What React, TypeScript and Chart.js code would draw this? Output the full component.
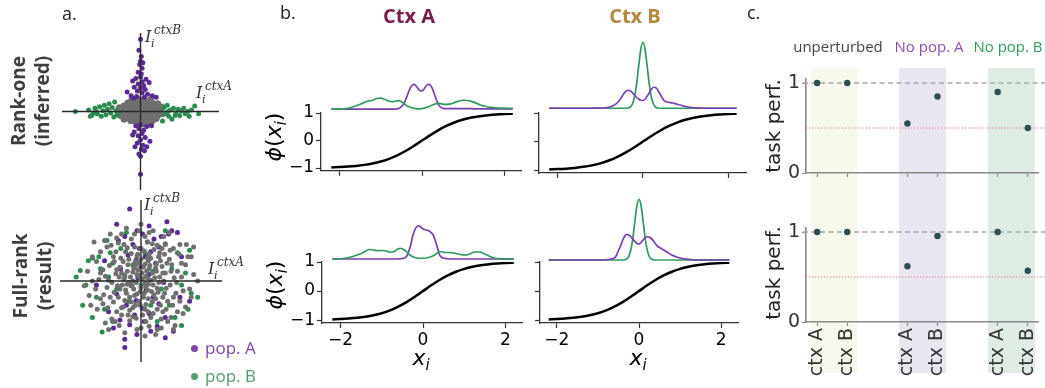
import React, { useEffect, useRef } from "react";
import { Chart, registerables } from "chart.js";
Chart.register(...registerables);

// ---------------- DATA ----------------
type P = [number, number];

// panel a, rank-one (inferred) input weights
const rankOnePopA: P[] = [
  [0.0, 0.92], [-0.02, 0.78], [0.01, 0.7], [0.0, 0.64], [0.03, 0.62], [-0.01, 0.6], [0.02, 0.55], [-0.03, 0.5],
  [0.01, 0.48], [0.0, 0.44], [-0.06, 0.42], [0.07, 0.41], [-0.1, 0.39], [0.02, 0.38], [0.11, 0.37], [-0.03, 0.35],
  [0.04, 0.33], [-0.08, 0.31], [0.0, 0.3], [0.06, 0.28], [-0.04, 0.26], [-0.17, 0.25], [0.02, 0.24], [0.09, 0.22],
  [-0.12, 0.2], [0.15, 0.2], [-0.05, 0.19], [0.05, 0.18], [0.2, 0.18], [-0.09, 0.17],
  [0.0, -0.17], [-0.06, -0.18], [0.08, -0.19], [0.14, -0.18], [-0.02, -0.22], [0.04, -0.24], [-0.08, -0.26],
  [0.02, -0.28], [-0.03, -0.31], [0.06, -0.33], [0.0, -0.36], [0.12, -0.38], [-0.04, -0.4], [0.03, -0.43],
  [-0.07, -0.45], [0.01, -0.48], [0.05, -0.5], [-0.02, -0.54], [0.0, -0.57], [0.08, -0.45], [-0.1, -0.3], [0.0, -0.8],
];
const rankOnePopB: P[] = [
  [-0.83, 0.0], [-0.66, 0.02], [-0.62, -0.05], [-0.58, 0.04], [-0.55, -0.03], [-0.52, 0.06], [-0.5, -0.06],
  [-0.48, 0.01], [-0.46, 0.08], [-0.44, -0.04], [-0.42, 0.03], [-0.4, 0.1], [-0.38, -0.02], [-0.36, 0.05],
  [-0.34, -0.07], [-0.33, 0.12], [-0.31, 0.01], [-0.3, -0.04], [-0.6, -0.02], [-0.64, -0.06], [-0.56, 0.0],
  [0.28, -0.12], [0.3, 0.05], [0.32, -0.03], [0.34, 0.08], [0.36, -0.06], [0.38, 0.02], [0.4, -0.1], [0.42, 0.04],
  [0.45, -0.02], [0.48, 0.03], [0.5, -0.05], [0.52, 0.01], [0.55, 0.04], [0.57, -0.03], [0.6, 0.0], [0.62, -0.06],
  [0.65, 0.02], [0.69, 0.07], [0.74, -0.03], [0.35, 0.0], [0.44, -0.05],
];
const rankOneOther: P[] = [
  [-0.08, 0.14], [-0.02, 0.15], [0.04, 0.14], [0.09, 0.13],
  [-0.16, 0.11], [-0.12, 0.12], [-0.06, 0.11], [0.0, 0.12], [0.06, 0.11], [0.12, 0.12], [0.16, 0.1],
  [-0.21, 0.07], [-0.16, 0.08], [-0.1, 0.07], [-0.04, 0.08], [0.02, 0.07], [0.08, 0.08], [0.14, 0.07], [0.19, 0.07], [0.23, 0.06],
  [-0.24, 0.03], [-0.2, 0.04], [-0.14, 0.03], [-0.08, 0.04], [-0.02, 0.03], [0.04, 0.04], [0.1, 0.03], [0.16, 0.04], [0.21, 0.03], [0.25, 0.02],
  [-0.25, -0.01], [-0.21, 0.0], [-0.15, -0.01], [-0.09, 0.0], [-0.03, -0.01], [0.03, 0.0], [0.09, -0.01], [0.15, 0.0], [0.21, -0.01], [0.25, 0.0],
  [-0.23, -0.05], [-0.19, -0.04], [-0.13, -0.05], [-0.07, -0.04], [-0.01, -0.05], [0.05, -0.04], [0.11, -0.05], [0.17, -0.04], [0.22, -0.05],
  [-0.19, -0.09], [-0.14, -0.08], [-0.08, -0.09], [-0.02, -0.08], [0.04, -0.09], [0.1, -0.08], [0.16, -0.09], [0.2, -0.09],
  [-0.12, -0.12], [-0.07, -0.12], [-0.01, -0.13], [0.05, -0.12], [0.11, -0.12], [0.15, -0.12],
  [-0.04, -0.15], [0.03, -0.16], [0.09, -0.15],
  [-0.27, 0.05], [0.28, -0.03], [-0.21, -0.1], [0.22, 0.1], [-0.11, 0.15], [0.13, 0.15], [-0.26, -0.05], [0.27, 0.06],
];

// panel a, full-rank (result) input weights
const fullRankOther: P[] = [
  [0.02, 0.03], [-0.05, 0.08], [0.09, -0.04], [-0.11, -0.06], [0.14, 0.1], [-0.17, 0.12], [0.04, -0.15], [-0.08, -0.18],
  [0.2, -0.09], [-0.21, 0.02], [0.11, 0.19], [-0.02, 0.22], [0.23, 0.05], [-0.14, -0.2], [0.07, 0.12], [-0.09, 0.16],
  [0.16, -0.17], [-0.19, -0.11], [0.0, -0.08], [0.12, 0.01], [-0.06, -0.02], [0.06, 0.06], [-0.13, 0.05], [0.03, 0.17],
  [0.18, 0.16], [-0.23, -0.05], [0.09, -0.22], [-0.03, -0.25], [0.22, -0.02], [-0.16, 0.2], [0.01, 0.1], [-0.1, 0.0],
  [0.15, -0.05], [-0.04, 0.14], [0.08, -0.11], [-0.18, -0.15], [0.19, 0.21], [-0.24, 0.1], [0.05, -0.03], [-0.07, 0.24],
  [0.3, 0.1], [-0.3, 0.14], [0.27, -0.2], [-0.28, -0.2], [0.1, 0.33], [-0.12, 0.34], [0.05, -0.35], [-0.1, -0.33],
  [0.36, -0.05], [-0.36, -0.02], [0.22, 0.3], [-0.25, 0.28], [0.24, -0.3], [-0.22, -0.32], [0.38, 0.2], [-0.39, 0.19],
  [0.33, -0.25], [-0.34, -0.26], [0.0, 0.4], [0.02, -0.42], [0.41, 0.04], [-0.42, -0.08], [0.16, 0.39], [-0.17, 0.41],
  [0.15, -0.4], [-0.16, -0.42], [0.29, 0.33], [-0.31, 0.36], [0.31, -0.35], [-0.3, -0.38], [0.43, -0.15], [-0.44, 0.06],
  [0.08, 0.28], [-0.05, 0.31], [0.28, 0.0], [-0.27, 0.05], [0.06, -0.29], [-0.07, -0.3], [0.35, 0.27], [-0.34, 0.3],
  [0.39, -0.3], [-0.41, -0.33], [0.2, 0.44], [-0.21, 0.45], [0.12, -0.45], [-0.1, -0.44], [0.45, 0.12], [-0.46, -0.17],
  [0.26, 0.18], [-0.26, -0.1],
  [0.5, 0.05], [-0.5, 0.1], [0.48, -0.25], [-0.47, -0.28], [0.4, 0.4], [-0.42, 0.42], [0.37, -0.45], [-0.36, -0.47],
  [0.05, 0.55], [-0.08, 0.58], [0.1, -0.56], [-0.05, -0.6], [0.55, 0.2], [-0.55, 0.24], [0.52, -0.4], [-0.56, -0.1],
  [0.28, 0.55], [-0.3, 0.53], [0.25, -0.58], [-0.27, -0.55], [0.6, -0.1], [-0.6, 0.0], [0.47, 0.33], [-0.5, 0.36],
  [0.15, 0.62], [-0.18, 0.65], [0.18, -0.66], [-0.2, -0.64], [0.62, 0.3], [-0.62, -0.3], [0.35, 0.6], [-0.38, 0.58],
  [0.42, -0.55], [-0.44, -0.52], [0.55, -0.32], [0.65, 0.08], [-0.66, 0.12], [0.0, 0.7], [0.05, -0.68], [0.56, 0.45],
  [-0.01, -0.13], [0.13, -0.13], [-0.15, -0.02], [0.17, 0.04], [-0.07, 0.19], [0.09, 0.25], [-0.2, 0.07], [0.21, -0.14],
  [-0.12, -0.26], [0.03, -0.2], [-0.26, 0.17], [0.27, 0.1], [0.1, 0.15], [-0.03, 0.06], [0.06, -0.07], [-0.09, -0.1],
  [0.24, 0.25], [-0.22, 0.24], [0.14, -0.26], [-0.29, -0.06], [0.31, -0.09], [-0.04, 0.33], [0.05, 0.21], [-0.15, 0.27],
  [0.18, -0.22], [-0.2, -0.24], [0.12, 0.28], [-0.1, 0.11], [0.08, 0.04], [-0.05, -0.16], [0.19, 0.12], [-0.17, -0.04],
  [0.0, 0.27], [-0.01, -0.3], [0.29, -0.15], [-0.31, 0.09], [0.23, 0.35], [-0.24, -0.33], [0.32, 0.22], [-0.33, -0.14],
  [0.44, -0.02], [-0.47, 0.14], [0.36, 0.38], [-0.37, 0.44], [0.45, -0.38], [-0.5, -0.22], [0.08, 0.48], [-0.12, 0.52],
  [0.06, -0.5], [-0.14, -0.49], [0.5, 0.22], [-0.52, 0.02], [0.3, 0.46], [-0.28, 0.47], [0.33, -0.5], [-0.32, -0.5],
  [0.52, -0.12], [-0.54, -0.35], [0.25, -0.47], [-0.24, 0.58], [0.48, 0.45], [-0.45, 0.5], [0.4, -0.6], [-0.4, -0.6],
  [0.58, 0.3], [-0.6, 0.3], [0.62, -0.2], [-0.64, -0.18], [0.1, 0.6], [-0.02, 0.62], [0.0, -0.58], [0.2, -0.6],
  [0.7, 0.0], [-0.7, -0.06], [0.65, 0.42], [-0.58, 0.48],
  [0.04, 0.37], [-0.08, 0.42], [0.14, 0.46], [-0.19, 0.36], [0.26, 0.4], [-0.33, 0.24], [0.37, 0.12], [-0.4, 0.01],
  [0.4, -0.2], [-0.38, -0.2], [0.27, -0.38], [-0.24, -0.42], [0.09, -0.38], [-0.06, -0.46], [0.2, -0.35], [-0.14, -0.36],
];
const fullRankPopA: P[] = [
  [-0.14, 0.89], [0.32, 0.73], [0.38, 0.62], [0.34, 0.58], [0.45, 0.6], [0.1, 0.68], [-0.05, 0.62], [0.02, 0.58],
  [-0.2, 0.55], [0.16, 0.52], [-0.28, 0.5], [0.08, 0.48], [-0.1, 0.45], [0.22, 0.42], [-0.02, 0.4], [0.12, 0.36],
  [-0.16, 0.32], [0.05, 0.3], [-0.06, 0.26], [0.18, 0.22], [0.0, 0.18], [-0.25, 0.15], [0.1, 0.08], [-0.04, 0.04],
  [0.28, -0.02], [-0.12, -0.06], [0.06, -0.12], [-0.3, -0.16], [0.15, -0.2], [-0.06, -0.24], [0.22, -0.28],
  [-0.18, -0.3], [0.02, -0.34], [-0.4, -0.38], [0.1, -0.4], [-0.08, -0.42], [0.3, -0.45], [-0.26, -0.48],
  [0.04, -0.5], [-0.14, -0.54], [0.2, -0.56], [-0.34, -0.58], [0.48, -0.2], [0.12, -0.62], [-0.05, -0.66],
  [0.3, -0.7], [-0.2, -0.72], [0.5, 0.3], [-0.45, 0.25], [-0.2, -0.82], [0.4, -0.62], [-0.55, -0.05],
  [0.6, -0.25], [-0.3, 0.7], [0.25, 0.55],
];
const fullRankPopB: P[] = [
  [-0.75, 0.13], [-0.65, 0.25], [-0.6, 0.28], [-0.48, -0.63], [-0.52, 0.3], [-0.42, 0.5], [-0.38, 0.35],
  [-0.35, 0.22], [-0.68, -0.05], [-0.55, -0.2], [-0.45, -0.35], [-0.3, -0.1], [-0.25, 0.4], [-0.2, 0.05],
  [-0.15, -0.25], [-0.1, 0.2], [0.0, -0.05], [0.05, 0.35], [0.12, -0.3], [0.15, 0.12], [0.22, 0.3], [0.25, -0.1],
  [0.3, 0.45], [0.35, -0.3], [0.38, 0.15], [0.42, -0.45], [0.45, 0.35], [0.5, -0.05], [0.55, 0.1], [0.58, -0.35],
  [0.62, -0.15], [0.6, 0.38], [-0.6, -0.45], [-0.72, -0.3], [-0.8, 0.05], [-0.35, -0.5], [0.5, -0.55],
  [-0.4, 0.05], [0.2, -0.5], [0.7, -0.2], [-0.5, 0.15], [0.3, 0.62], [-0.18, 0.6],
];

// panel b, densities of x_i per population
const densityX = [
  -2.2, -2.1, -2.0, -1.9, -1.8, -1.7, -1.6, -1.5, -1.4, -1.3, -1.2, -1.1, -1.0, -0.9, -0.8, -0.7, -0.6,
  -0.55, -0.5, -0.45, -0.4, -0.35, -0.3, -0.25, -0.2, -0.15, -0.1, -0.05, 0, 0.05, 0.1, 0.15, 0.2, 0.25, 0.3,
  0.35, 0.4, 0.45, 0.5, 0.55, 0.6, 0.7, 0.8, 0.9, 1.0, 1.1, 1.2, 1.3, 1.4, 1.5, 1.6, 1.7, 1.8, 1.9, 2.0, 2.1, 2.2,
];
const rankOneCtxAPopA = [
  0, 0, 0, 0, 0, 0, 0, 0, 0, 0, 0, 0, 0, 0, 0, 0, 0.01,
  0.04, 0.1, 0.2, 0.38, 0.6, 0.82, 0.98, 1.03, 0.98, 0.86, 0.77, 0.76, 0.84, 0.97, 1.03, 1.0, 0.86, 0.62,
  0.38, 0.19, 0.08, 0.04, 0.02, 0.02, 0.02, 0.02, 0.02, 0.02, 0.02, 0.02, 0.01, 0.01, 0.01, 0.01, 0.01, 0.01, 0.01, 0.01, 0.01, 0.01,
];
const rankOneCtxAPopB = [
  0, 0, 0, 0.01, 0.03, 0.08, 0.14, 0.2, 0.28, 0.34, 0.37, 0.44, 0.46, 0.4, 0.33, 0.31, 0.34,
  0.35, 0.31, 0.25, 0.18, 0.12, 0.09, 0.06, 0.04, 0.02, 0.01, 0.01, 0.02, 0.04, 0.07, 0.1, 0.13, 0.17, 0.2,
  0.23, 0.24, 0.23, 0.21, 0.2, 0.2, 0.22, 0.28, 0.34, 0.37, 0.36, 0.32, 0.26, 0.18, 0.13, 0.09, 0.07, 0.05, 0.04, 0.04, 0.03, 0.03,
];
const rankOneCtxBPopA = [
  0, 0, 0, 0, 0, 0, 0, 0, 0, 0, 0, 0.01, 0.01, 0.02, 0.04, 0.1, 0.22,
  0.32, 0.45, 0.58, 0.68, 0.72, 0.7, 0.63, 0.53, 0.44, 0.37, 0.32, 0.31, 0.36, 0.48, 0.62, 0.76, 0.84, 0.83,
  0.72, 0.58, 0.42, 0.3, 0.26, 0.24, 0.21, 0.16, 0.12, 0.07, 0.04, 0.02, 0.01, 0, 0, 0, 0, 0, 0, 0, 0, 0,
];
const rankOneCtxBPopB = [
  0, 0, 0, 0, 0, 0, 0, 0, 0, 0, 0, 0, 0, 0, 0, 0, 0,
  0, 0, 0, 0, 0.01, 0.04, 0.16, 0.43, 0.95, 1.68, 2.36, 2.64, 2.36, 1.68, 0.95, 0.43, 0.16, 0.04,
  0.01, 0, 0, 0, 0, 0, 0, 0, 0, 0, 0, 0, 0, 0, 0, 0, 0, 0, 0, 0, 0, 0,
];
const fullRankCtxAPopA = [
  0, 0, 0, 0, 0, 0, 0, 0, 0, 0, 0, 0, 0, 0, 0, 0, 0,
  0.01, 0.02, 0.04, 0.1, 0.3, 0.55, 0.92, 1.16, 1.3, 1.33, 1.27, 1.2, 1.17, 1.15, 1.12, 1.05, 0.95, 0.72,
  0.45, 0.17, 0.07, 0.03, 0.02, 0.01, 0, 0, 0, 0, 0, 0, 0, 0, 0, 0, 0, 0, 0, 0, 0, 0,
];
const fullRankCtxAPopB = [
  0, 0, 0.01, 0.03, 0.06, 0.1, 0.16, 0.22, 0.31, 0.38, 0.36, 0.33, 0.34, 0.33, 0.27, 0.3, 0.41,
  0.43, 0.4, 0.36, 0.29, 0.2, 0.14, 0.09, 0.06, 0.04, 0.03, 0.03, 0.03, 0.03, 0.05, 0.07, 0.1, 0.13, 0.18,
  0.24, 0.29, 0.29, 0.27, 0.26, 0.26, 0.25, 0.22, 0.18, 0.16, 0.18, 0.25, 0.29, 0.27, 0.2, 0.12, 0.05, 0.02, 0.01, 0, 0, 0,
];
const fullRankCtxBPopA = [
  0, 0, 0, 0, 0, 0, 0, 0, 0, 0, 0, 0, 0, 0, 0.01, 0.03, 0.08,
  0.18, 0.38, 0.56, 0.78, 0.95, 1.03, 1.0, 0.94, 0.84, 0.74, 0.66, 0.64, 0.7, 0.8, 0.89, 0.93, 0.92, 0.86,
  0.77, 0.65, 0.55, 0.5, 0.45, 0.4, 0.3, 0.2, 0.13, 0.08, 0.05, 0.03, 0.01, 0, 0, 0, 0, 0, 0, 0, 0, 0,
];
const fullRankCtxBPopB = [
  0, 0, 0, 0, 0, 0, 0, 0, 0, 0, 0, 0, 0, 0, 0, 0, 0,
  0, 0, 0, 0, 0.01, 0.04, 0.14, 0.4, 0.87, 1.55, 2.18, 2.43, 2.18, 1.55, 0.87, 0.4, 0.14, 0.04,
  0.01, 0, 0, 0, 0, 0, 0, 0, 0, 0, 0, 0, 0, 0, 0, 0, 0, 0, 0, 0, 0, 0,
];

// panel b, transfer function phi(x)
const phiX = [-2.2, -2.0, -1.8, -1.6, -1.4, -1.2, -1.0, -0.8, -0.6, -0.4, -0.2, 0, 0.2, 0.4, 0.6, 0.8, 1.0, 1.2, 1.4, 1.6, 1.8, 2.0, 2.2];
const phiY = [-0.976, -0.964, -0.947, -0.922, -0.885, -0.834, -0.762, -0.664, -0.537, -0.38, -0.197, 0, 0.197, 0.38, 0.537, 0.664, 0.762, 0.834, 0.885, 0.922, 0.947, 0.964, 0.976];
const phiXTicks = [-2, 0, 2];
const phiYTicks = [-1, 0, 1];

// panel c, task performance
const perfCategories = ["ctx A", "ctx B", "", "ctx A", "ctx B", "", "ctx A", "ctx B"];
const perfRankOne = [1.0, 1.0, null, 0.55, 0.85, null, 0.9, 0.5];
const perfFullRank = [1.0, 1.0, null, 0.62, 0.955, null, 1.0, 0.57];
const perfYTicks = [0, 1];
const perfRefLevel = 1.0;
const perfChanceLevel = 0.5;
const groupLabels = ["unperturbed", "No pop. A", "No pop. B"];

// ---------------- STYLE ----------------
const PURPLE_PT = "#5a2a94";
const GREEN_PT = "#2b8b50";
const GRAY_PT = "#6f6f6f";
const PURPLE_LINE = "#7a3db3";
const GREEN_LINE = "#2f9a5d";
const DOT = "#2b4e52";
const TICK_FONT = "'DejaVu Sans', sans-serif";
const SANS = "'Open Sans', sans-serif";
const bandSpans = [[-0.2, 1.36], [2.72, 4.29], [5.68, 7.24]];
const bandColors = ["#f8f9ed", "#e9e6f2", "#deece4"];

const fmt = (v: number) => (v < 0 ? "\u2212" + Math.abs(v) : String(v));

const base = {
  responsive: false,
  animation: false,
  devicePixelRatio: 1,
  events: [],
  plugins: { legend: { display: false }, tooltip: { enabled: false } },
};

const crossPlugin = {
  id: "cross",
  afterDatasetsDraw(chart: any) {
    const { ctx, chartArea: a, scales } = chart;
    const x0 = scales.x.getPixelForValue(0);
    const y0 = scales.y.getPixelForValue(0);
    ctx.save();
    ctx.strokeStyle = "#2a2a2a";
    ctx.lineWidth = 1.4;
    ctx.beginPath();
    ctx.moveTo(a.left, y0);
    ctx.lineTo(a.right, y0);
    ctx.moveTo(x0, a.top);
    ctx.lineTo(x0, a.bottom);
    ctx.stroke();
    ctx.restore();
  },
};

function scatterConfig(sets: { pts: P[]; color: string; r: number }[], padding: any) {
  return {
    type: "scatter",
    data: {
      datasets: sets.map((s) => ({
        data: s.pts.map(([x, y]) => ({ x, y })),
        backgroundColor: s.color,
        borderWidth: 0,
        pointRadius: s.r,
        clip: false,
      })),
    },
    options: {
      ...base,
      layout: { padding },
      scales: {
        x: { display: false, min: -1, max: 1 },
        y: { display: false, min: -1, max: 1 },
      },
    },
    plugins: [crossPlugin],
  };
}

const noSidePadding = (s: any) => {
  s.paddingLeft = 0;
  s.paddingRight = 0;
};

function phiConfig(o: {
  popA: number[]; popB: number[]; greenOnTop: boolean; showY: boolean; showX: boolean;
  xMin: number; xMax: number; yW: number; xH: number; padding: any; dMin: number; dMax: number;
}) {
  const dens = (vals: number[], color: string) => ({
    data: densityX.map((x, i) => ({ x, y: vals[i] })),
    yAxisID: "y2",
    borderColor: color,
    borderWidth: 1.7,
    pointRadius: 0,
    cubicInterpolationMode: "monotone",
    clip: false,
    fill: false,
  });
  const dA = dens(o.popA, PURPLE_LINE);
  const dB = dens(o.popB, GREEN_LINE);
  const tickFont = { family: TICK_FONT, size: 17 };
  return {
    type: "line",
    data: {
      datasets: [
        {
          data: phiX.map((x, i) => ({ x, y: phiY[i] })),
          yAxisID: "y",
          borderColor: "#000",
          borderWidth: 2.5,
          pointRadius: 0,
          cubicInterpolationMode: "monotone",
          fill: false,
        },
        ...(o.greenOnTop ? [dA, dB] : [dB, dA]),
      ],
    },
    options: {
      ...base,
      layout: { padding: o.padding },
      scales: {
        x: {
          type: "linear",
          min: o.xMin,
          max: o.xMax,
          afterBuildTicks: (s: any) => { s.ticks = phiXTicks.map((v) => ({ value: v })); },
          afterFit: (s: any) => { s.height = o.xH; noSidePadding(s); },
          ticks: { display: o.showX, font: tickFont, color: "#000", padding: 2, maxRotation: 0, callback: (v: any) => fmt(v) },
          grid: { drawOnChartArea: false, drawTicks: true, tickLength: 5, color: "#333", tickWidth: 1.2 },
          border: { display: true, color: "#333", width: 1.3 },
        },
        y: {
          type: "linear",
          min: -1.1,
          max: 1.0,
          afterBuildTicks: (s: any) => { s.ticks = phiYTicks.map((v) => ({ value: v })); },
          afterFit: (s: any) => { s.width = o.yW; },
          ticks: { display: o.showY, font: tickFont, color: "#000", padding: 2, callback: (v: any) => fmt(v) },
          grid: { drawOnChartArea: false, drawTicks: true, tickLength: 5, color: "#333", tickWidth: 1.2 },
          border: { display: true, color: "#333", width: 1.3 },
        },
        y2: { type: "linear", display: false, min: o.dMin, max: o.dMax },
      },
    },
  };
}

function perfConfig(o: { values: (number | null)[]; showX: boolean; xH: number; padding: any; bandTop: number; bandBottom: number | null }) {
  const bandsPlugin = {
    id: "bands",
    beforeDraw(chart: any) {
      const { ctx, scales } = chart;
      ctx.save();
      bandSpans.forEach(([a, b], i) => {
        const x0 = scales.x.getPixelForValue(a);
        const x1 = scales.x.getPixelForValue(b);
        const y1 = o.bandBottom == null ? chart.height : o.bandBottom;
        ctx.fillStyle = bandColors[i];
        ctx.fillRect(x0, o.bandTop, x1 - x0, y1 - o.bandTop);
      });
      ctx.restore();
    },
  };
  const refPlugin = {
    id: "refs",
    beforeDatasetsDraw(chart: any) {
      const { ctx, chartArea: a, scales } = chart;
      ctx.save();
      const yr = scales.y.getPixelForValue(perfRefLevel);
      ctx.strokeStyle = "#a8a8a8";
      ctx.lineWidth = 1.3;
      ctx.setLineDash([5, 3.5]);
      ctx.beginPath();
      ctx.moveTo(a.left - 3, yr);
      ctx.lineTo(chart.width, yr);
      ctx.stroke();
      const yc = scales.y.getPixelForValue(perfChanceLevel);
      ctx.strokeStyle = "#e07a7a";
      ctx.lineWidth = 1;
      ctx.setLineDash([1.3, 1.7]);
      ctx.beginPath();
      ctx.moveTo(a.left, yc);
      ctx.lineTo(chart.width, yc);
      ctx.stroke();
      ctx.restore();
    },
  };
  const tickFont = { family: TICK_FONT, size: 19 };
  return {
    type: "scatter",
    data: {
      datasets: [
        {
          data: o.values
            .map((v, i) => (v == null ? null : { x: i, y: v }))
            .filter((d) => d != null),
          backgroundColor: DOT,
          borderWidth: 0,
          pointRadius: 3.2,
          clip: false,
        },
      ],
    },
    options: {
      ...base,
      layout: { padding: o.padding },
      scales: {
        x: {
          type: "linear",
          min: -0.37,
          max: 7.34,
          afterBuildTicks: (s: any) => {
            s.ticks = perfCategories.map((c, i) => (c ? { value: i } : null)).filter((t) => t != null);
          },
          afterFit: (s: any) => { s.height = o.xH; noSidePadding(s); },
          ticks: {
            display: o.showX, font: tickFont, color: "#333", padding: 2, minRotation: 90, maxRotation: 90, autoSkip: false,
            callback: (v: any) => perfCategories[v],
          },
          grid: { drawOnChartArea: false, drawTicks: true, tickLength: 4, color: "#888", tickWidth: 1.2 },
          border: { display: true, color: "#888", width: 1.6 },
        },
        y: {
          type: "linear",
          min: 0,
          max: 1.05,
          afterBuildTicks: (s: any) => { s.ticks = perfYTicks.map((v) => ({ value: v })); },
          afterFit: (s: any) => { s.width = 56; },
          ticks: { font: tickFont, color: "#333", padding: 2 },
          grid: { drawOnChartArea: false, drawTicks: true, tickLength: 4, color: "#888", tickWidth: 1.2 },
          border: { display: true, color: "#888", width: 1.6 },
        },
      },
    },
    plugins: [bandsPlugin, refPlugin],
  };
}

// ---------------- COMPONENTS ----------------
function ChartBox({ x, y, w, h, make }: { x: number; y: number; w: number; h: number; make: () => any }) {
  const ref = useRef<HTMLCanvasElement>(null);
  useEffect(() => {
    const chart = new Chart(ref.current as HTMLCanvasElement, make());
    return () => chart.destroy();
  }, []);
  return (
    <canvas
      ref={ref}
      width={w}
      height={h}
      style={{ position: "absolute", left: x, top: y, width: w, height: h }}
    />
  );
}

function Txt({ x, y, size, color, children, bold, center, family }: any) {
  return (
    <div
      style={{
        position: "absolute",
        left: x,
        top: y,
        fontFamily: family || SANS,
        fontSize: size,
        lineHeight: size + "px",
        color,
        fontWeight: bold ? 700 : 400,
        whiteSpace: "nowrap",
        transform: center ? "translateX(-50%)" : undefined,
      }}
    >
      {children}
    </div>
  );
}

function Rot({ cx, cy, children, style }: any) {
  return (
    <div
      style={{
        position: "absolute",
        left: cx,
        top: cy,
        transform: "translate(-50%,-50%) rotate(-90deg)",
        whiteSpace: "nowrap",
        textAlign: "center",
        ...style,
      }}
    >
      {children}
    </div>
  );
}

function ILabel({ x, y, sup }: { x: number; y: number; sup: string }) {
  const f = "'DejaVu Serif', serif";
  const s = (left: number, base: number, size: number, text: string) => (
    <span
      style={{
        position: "absolute",
        left,
        top: base - 0.845 * size,
        fontFamily: f,
        fontStyle: "italic",
        fontSize: size,
        lineHeight: size + "px",
        color: "#333",
        whiteSpace: "nowrap",
      }}
    >
      {text}
    </span>
  );
  return (
    <>
      {s(x, y, 16, "I")}
      {s(x + 6, y + 4, 11, "i")}
      {s(x + 9, y - 9, 12, sup)}
    </>
  );
}

function PhiLabel({ cx, cy }: { cx: number; cy: number }) {
  return (
    <Rot cx={cx} cy={cy} style={{ fontFamily: TICK_FONT, fontSize: 22, color: "#000" }}>
      <span style={{ fontStyle: "italic" }}>{"\u03D5"}</span>(
      <span style={{ fontStyle: "italic" }}>x</span>
      <span style={{ fontStyle: "italic", fontSize: 15, position: "relative", top: 5 }}>i</span>)
    </Rot>
  );
}

function XiLabel({ cx, y }: { cx: number; y: number }) {
  return (
    <div style={{ position: "absolute", left: cx, top: y, transform: "translateX(-50%)", fontFamily: TICK_FONT, fontSize: 22, lineHeight: "22px", color: "#000", whiteSpace: "nowrap" }}>
      <span style={{ fontStyle: "italic" }}>x</span>
      <span style={{ fontStyle: "italic", fontSize: 15, position: "relative", top: 5 }}>i</span>
    </div>
  );
}

function LegendItem({ x, y, color, label }: any) {
  return (
    <div style={{ position: "absolute", left: x, top: y, fontFamily: SANS, fontSize: 17, lineHeight: "20px", color, whiteSpace: "nowrap" }}>
      <span style={{ display: "inline-block", width: 7, height: 7, borderRadius: 4, background: color, marginRight: 7, verticalAlign: "middle", position: "relative", top: -1 }} />
      {label}
    </div>
  );
}

export default function App() {
  return (
    <div style={{ position: "fixed", left: 0, top: 0, width: 1045, height: 388, background: "#fff", overflow: "hidden" }}>
      {/* panel a */}
      <ChartBox x={50} y={20} w={215} h={185} make={() => scatterConfig(
        [{ pts: rankOnePopA, color: PURPLE_PT, r: 2.5 }, { pts: rankOnePopB, color: GREEN_PT, r: 2.5 }, { pts: rankOneOther, color: GRAY_PT, r: 3.4 }],
        { left: 12, top: 13, right: 46, bottom: 15 })} />
      <ChartBox x={48} y={185} w={215} h={195} make={() => scatterConfig(
        [{ pts: fullRankOther, color: GRAY_PT, r: 2.5 }, { pts: fullRankPopA, color: PURPLE_PT, r: 2.5 }, { pts: fullRankPopB, color: GREEN_PT, r: 2.5 }],
        { left: 12, top: 15, right: 41, bottom: 18 })} />

      {/* panel b */}
      <ChartBox x={255} y={35} w={275} h={148} make={() => phiConfig({
        popA: rankOneCtxAPopA, popB: rankOneCtxAPopB, greenOnTop: false, showY: true, showX: false,
        xMin: -2.45, xMax: 2.4, yW: 66, xH: 10, padding: { top: 78, right: 9, left: 0, bottom: 0 }, dMin: -2.56, dMax: -0.16 })} />
      <ChartBox x={520} y={35} w={235} h={148} make={() => phiConfig({
        popA: rankOneCtxBPopA, popB: rankOneCtxBPopB, greenOnTop: true, showY: false, showX: false,
        xMin: -2.44, xMax: 2.42, yW: 19, xH: 10, padding: { top: 78, right: 9, left: 0, bottom: 0 }, dMin: -2.59, dMax: -0.19 })} />
      <ChartBox x={255} y={184} w={275} h={204} make={() => phiConfig({
        popA: fullRankCtxAPopA, popB: fullRankCtxAPopB, greenOnTop: false, showY: true, showX: true,
        xMin: -2.45, xMax: 2.4, yW: 67, xH: 65, padding: { top: 78, right: 8, left: 0, bottom: 0 }, dMin: -2.56, dMax: -0.12 })} />
      <ChartBox x={520} y={184} w={235} h={204} make={() => phiConfig({
        popA: fullRankCtxBPopA, popB: fullRankCtxBPopB, greenOnTop: true, showY: false, showX: true,
        xMin: -2.41, xMax: 2.41, yW: 20, xH: 65, padding: { top: 78, right: 17, left: 0, bottom: 0 }, dMin: -2.52, dMax: -0.08 })} />

      {/* panel c */}
      <ChartBox x={750} y={60} w={295} h={130} make={() => perfConfig({
        values: perfRankOne, showX: false, xH: 17, padding: { top: 18.5, right: 7, left: 0, bottom: 0 }, bandTop: 8, bandBottom: null })} />
      <ChartBox x={750} y={190} w={295} h={198} make={() => perfConfig({
        values: perfFullRank, showX: true, xH: 66, padding: { top: 37.5, right: 7, left: 0, bottom: 0 }, bandTop: 0, bandBottom: 183 })} />

      {/* texts, panel a */}
      <Txt x={62} y={4} size={18} color="#222">a.</Txt>
      <Rot cx={30} cy={101} style={{ fontFamily: SANS, fontWeight: 700, fontSize: 19, lineHeight: "24px", color: "#3d3d3d" }}>
        <div>Rank-one</div>
        <div>(inferred)</div>
      </Rot>
      <Rot cx={32} cy={276} style={{ fontFamily: SANS, fontWeight: 700, fontSize: 19, lineHeight: "24px", color: "#3d3d3d" }}>
        <div>Full-rank</div>
        <div>(result)</div>
      </Rot>
      <ILabel x={145} y={43} sup="ctxB" />
      <ILabel x={196} y={99} sup="ctxA" />
      <ILabel x={144} y={211} sup="ctxB" />
      <ILabel x={208} y={275} sup="ctxA" />
      <LegendItem x={191} y={338} color="#8142ad" label="pop. A" />
      <LegendItem x={191} y={366} color="#519c6e" label="pop. B" />

      {/* texts, panel b */}
      <Txt x={280} y={3} size={18} color="#222">b.</Txt>
      <Txt x={409} y={6} size={20} color="#7b1c4e" bold center>Ctx A</Txt>
      <Txt x={635} y={6} size={20} color="#b2873f" bold center>Ctx B</Txt>
      <PhiLabel cx={273} cy={137} />
      <PhiLabel cx={274} cy={285} />
      <XiLabel cx={421} y={347} />
      <XiLabel cx={638} y={347} />

      {/* texts, panel c */}
      <Txt x={747} y={3} size={18} color="#222">c.</Txt>
      <Txt x={838} y={39} size={15} color="#444" center>{groupLabels[0]}</Txt>
      <Txt x={929} y={39} size={15} color="#8a4db3" center>{groupLabels[1]}</Txt>
      <Txt x={1008} y={39} size={15} color="#2e9a5a" center>{groupLabels[2]}</Txt>
      <Rot cx={773} cy={126} style={{ fontFamily: TICK_FONT, fontSize: 20, color: "#222" }}>task perf.</Rot>
      <Rot cx={773} cy={273} style={{ fontFamily: TICK_FONT, fontSize: 20, color: "#222" }}>task perf.</Rot>
    </div>
  );
}
